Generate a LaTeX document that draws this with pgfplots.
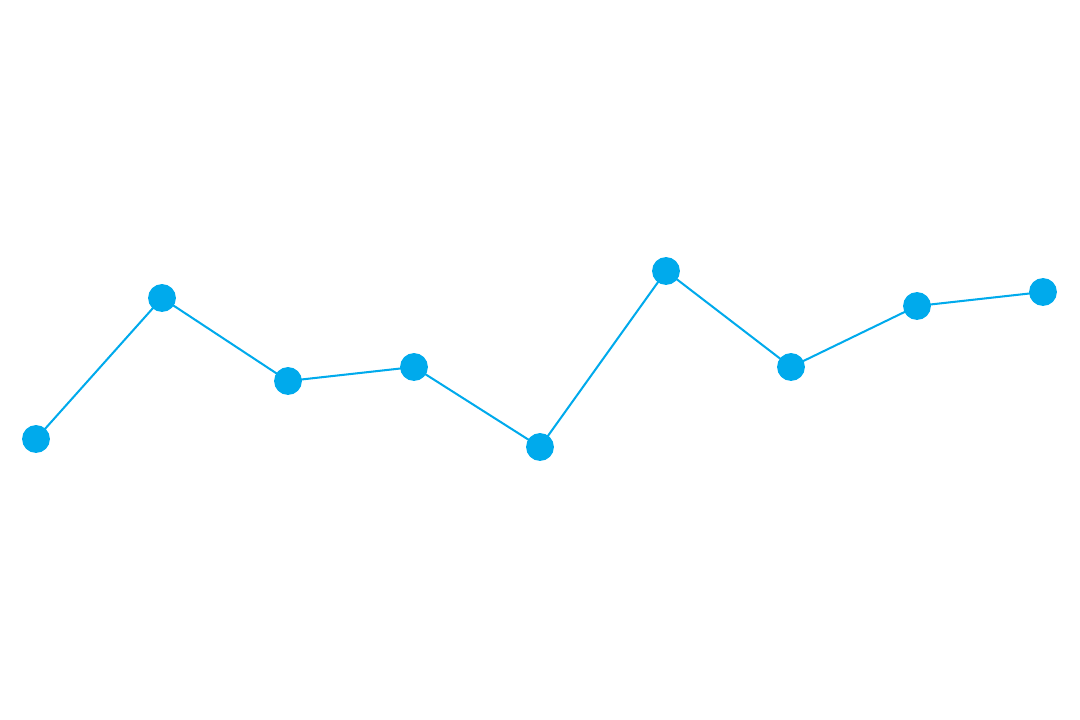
\documentclass[border=0pt]{standalone}
\usepackage{pgfplots}
\pgfplotsset{compat=1.18}
\definecolor{lineblue}{RGB}{0,170,236}
\begin{document}
\begin{tikzpicture}
\begin{axis}[
    width=15cm, height=10cm,
    scale only axis,
    xmin=0, xmax=1080,
    ymin=0, ymax=720,
    axis line style={draw=none},
    ticks=none,
    clip=false,
]
\addplot[color=lineblue, line width=0.8pt, mark=*, mark size=5.1pt,
    mark options={fill=lineblue, draw=lineblue}]
coordinates {(36,281) (162,422) (288,339) (414,353) (540,273) (666,449) (791,353) (917,414) (1043,428)};
\end{axis}
\end{tikzpicture}
\end{document}
